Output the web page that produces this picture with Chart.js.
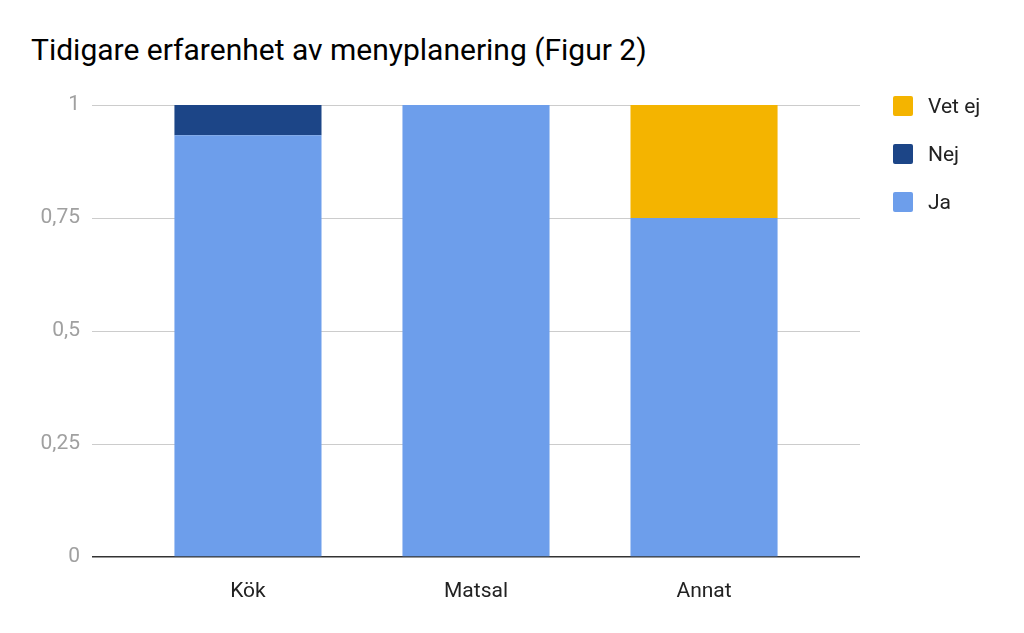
<!DOCTYPE html>
<html><head><meta charset="utf-8">
<script src="https://cdn.jsdelivr.net/npm/chart.js@4/dist/chart.umd.min.js"></script>
<style>
body{margin:0;width:1024px;height:633px;background:#fff;font-family:Roboto,sans-serif;position:relative;overflow:hidden}
#t{position:absolute;left:31px;top:32px;font-size:30px;color:#000}
#c{position:absolute;left:0;top:0}
.lg{position:absolute;left:893px;font-size:21px;color:#222;display:flex;align-items:center}
.lg span{display:inline-block;width:20px;height:20px;margin-right:15px;border-radius:2px}
</style></head><body>
<div id="t">Tidigare erfarenhet av menyplanering (Figur 2)</div>
<canvas id="c" width="1024" height="633"></canvas>
<div class="lg" style="top:94px"><span style="background:#f4b400"></span>Vet ej</div>
<div class="lg" style="top:142px"><span style="background:#1c4587"></span>Nej</div>
<div class="lg" style="top:190px"><span style="background:#6d9eeb"></span>Ja</div>
<script>
const categories=["Kök","Matsal","Annat"];
const ja=[0.933,1,0.75];
const nej=[0.067,0,0];
const vetEj=[0,0,0.25];
const yTicks=[0,0.25,0.5,0.75,1];
const pts=a=>a.map((v,i)=>({x:i,y:v}));
new Chart(document.getElementById('c'),{
type:'bar',
data:{datasets:[
{label:'Ja',data:pts(ja),backgroundColor:'#6d9eeb'},
{label:'Nej',data:pts(nej),backgroundColor:'#1c4587'},
{label:'Vet ej',data:pts(vetEj),backgroundColor:'#f4b400'}]},
options:{responsive:false,animation:false,
layout:{padding:{top:105,right:164,left:0,bottom:0}},
datasets:{bar:{categoryPercentage:1,barPercentage:0.645}},
plugins:{legend:{display:false},tooltip:{enabled:false}},
scales:{
x:{type:'linear',stacked:true,min:-0.684,max:2.684,offset:false,
afterBuildTicks(s){s.ticks=categories.map((c,i)=>({value:i}));},
grid:{display:false},border:{display:false},
ticks:{color:'#222',font:{family:'Roboto',size:21},padding:14,callback:v=>categories[v]},
afterFit(s){s.height=76;}},
y:{stacked:true,min:0,max:1,afterBuildTicks(s){s.ticks=yTicks.map(v=>({value:v}));},
border:{display:false},
grid:{drawTicks:false,color:c=>c.tick&&c.tick.value===0?'#333':'#ccc',lineWidth:c=>c.tick&&c.tick.value===0?1.5:1},
ticks:{color:'#a0a0a0',font:{family:'Roboto',size:21},padding:12,callback:v=>String(v).replace('.',',')},
afterFit(s){s.width=92;}}
}}});
</script></body></html>
